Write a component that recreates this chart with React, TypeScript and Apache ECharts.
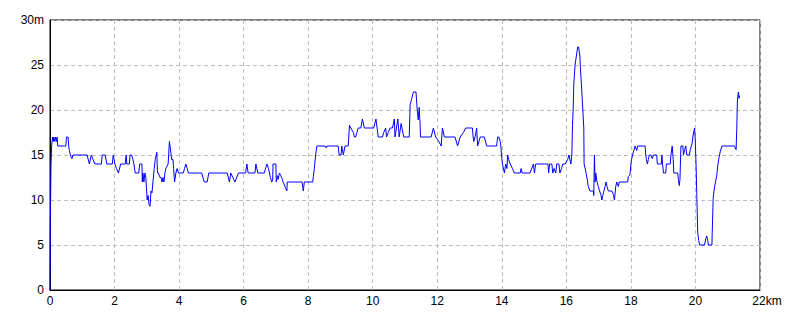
import React, { useEffect, useRef } from "react";
import * as echarts from "echarts";

const distKm: number[] = [
  0, 0.01, 0.03, 0.05, 0.08, 0.1, 0.12, 0.15, 0.17, 0.2, 0.22, 0.24, 0.49, 0.51, 0.56, 0.58, 0.6, 0.63, 0.65, 0.68, 0.71,
  1.15, 1.22, 1.28, 1.3, 1.39, 1.59, 1.62, 1.71, 1.76, 1.93, 1.96, 2.01, 2.06, 2.12, 2.19, 2.33, 2.36, 2.38, 2.46, 2.48,
  2.53, 2.57, 2.6, 2.64, 2.75, 2.78, 2.85, 2.86, 2.88, 2.91, 2.94, 2.97, 3.01, 3.04, 3.07, 3.1, 3.13, 3.16, 3.19, 3.23,
  3.26, 3.31, 3.33, 3.36, 3.41, 3.44, 3.47, 3.5, 3.53, 3.56, 3.59, 3.66, 3.7, 3.72, 3.77, 3.81, 3.83, 3.86, 3.9, 3.94,
  3.98, 4.13, 4.17, 4.21, 4.25, 4.29, 4.7, 4.78, 4.87, 4.92, 5.49, 5.56, 5.6, 5.62, 5.73, 5.84, 6.06, 6.1, 6.14, 6.35,
  6.38, 6.44, 6.64, 6.72, 6.77, 6.8, 6.83, 6.87, 6.9, 6.91, 7.0, 7.01, 7.05, 7.07, 7.11, 7.15, 7.19, 7.22, 7.25, 7.29,
  7.34, 7.35, 7.81, 7.85, 7.88, 8.14, 8.16, 8.19, 8.23, 8.27, 8.52, 8.55, 8.58, 8.93, 8.96, 9.02, 9.04, 9.09, 9.14, 9.24,
  9.28, 9.32, 9.4, 9.43, 9.47, 9.51, 9.55, 9.63, 9.68, 9.74, 10.03, 10.1, 10.17, 10.3, 10.34, 10.4, 10.43, 10.48, 10.54,
  10.61, 10.67, 10.69, 10.78, 10.82, 10.88, 10.96, 11.13, 11.16, 11.21, 11.26, 11.34, 11.38, 11.41, 11.44, 11.47, 11.48,
  11.81, 11.88, 11.95, 12.01, 12.05, 12.12, 12.16, 12.22, 12.55, 12.63, 12.71, 12.81, 12.88, 13.09, 13.11, 13.13, 13.17,
  13.22, 13.25, 13.33, 13.38, 13.46, 13.53, 13.84, 13.87, 13.91, 13.95, 13.97, 13.99, 14.02, 14.08, 14.12, 14.16, 14.18,
  14.21, 14.26, 14.33, 14.39, 14.57, 14.6, 14.63, 14.87, 14.98, 15.01, 15.05, 15.43, 15.45, 15.48, 15.55, 15.58, 15.62,
  15.67, 15.7, 15.77, 15.8, 15.85, 15.89, 15.96, 16.04, 16.08, 16.14, 16.17, 16.19, 16.21, 16.23, 16.27, 16.31, 16.35,
  16.38, 16.42, 16.43, 16.48, 16.51, 16.54, 16.55, 16.58, 16.61, 16.65, 16.68, 16.73, 16.84, 16.85, 16.87, 16.89, 16.91,
  16.95, 16.99, 17.02, 17.07, 17.1, 17.13, 17.15, 17.2, 17.23, 17.26, 17.3, 17.41, 17.46, 17.49, 17.53, 17.56, 17.61,
  17.64, 17.9, 17.92, 17.97, 18.01, 18.05, 18.09, 18.13, 18.18, 18.21, 18.44, 18.46, 18.48, 18.51, 18.54, 18.57, 18.62,
  18.66, 18.7, 18.8, 18.82, 18.94, 18.96, 18.98, 19.01, 19.08, 19.1, 19.22, 19.24, 19.28, 19.31, 19.33, 19.45, 19.47,
  19.5, 19.52, 19.55, 19.61, 19.63, 19.66, 19.7, 19.73, 19.81, 19.84, 19.89, 19.92, 19.95, 19.97, 19.99, 20.02, 20.04,
  20.07, 20.1, 20.13, 20.28, 20.32, 20.35, 20.38, 20.4, 20.51, 20.52, 20.55, 20.58, 20.62, 20.66, 20.69, 20.73, 20.77,
  20.82, 21.21, 21.23, 21.26, 21.28, 21.3, 21.33, 21.35, 21.37,
];

const elevM: number[] = [
  0, 7, 13.7, 16, 17, 16.5, 17, 16.5, 17, 16.5, 17, 16, 16, 17, 17, 16, 15.5, 15, 14.8, 14.6, 15,
  15, 14, 15, 15, 14, 14, 15, 15, 14, 14, 15, 14, 13.5, 13, 14, 14, 15, 14, 14, 15,
  15, 14.5, 14, 13, 13, 14, 14, 12, 13, 12, 13, 12.5, 10, 10.5, 9.5, 9.3, 11, 10.8, 12, 13.5,
  14.5, 15.3, 13, 13, 12.5, 12.5, 12, 12.5, 12, 13, 13.5, 14, 16.5, 16, 14.5, 14.5, 13.5, 12, 13, 13.5,
  13, 13, 13.5, 14, 13.5, 13, 13, 12, 12, 13, 13, 12, 13, 13, 12, 13, 13, 14, 13, 13,
  14, 13, 13, 14, 13.5, 13, 12.5, 12, 12.2, 14, 14, 12, 12.7, 12.3, 13, 12.7, 12.4, 12, 11.8, 11.4,
  11, 12, 12, 11, 12, 12, 12.6, 13.5, 15, 16, 16, 15.8, 16, 16, 15, 15, 16, 15, 16, 16,
  18.3, 18, 17.5, 17, 17, 17.5, 18, 18, 19, 18, 18, 19, 17, 17, 17.5, 18, 17, 17.5, 18,
  18, 19, 17, 19, 17, 18.5, 17, 17, 20.6, 21.3, 22, 22, 20, 18.9, 20.3, 18.3, 17,
  17, 18, 17, 16.7, 16.5, 16, 18, 17, 17, 16, 17, 17.5, 18, 18, 17, 16.5, 17,
  18, 16, 17, 17, 17, 16, 16, 17, 17, 16.5, 16, 15, 14, 13, 14, 13.5, 15,
  14.5, 14, 13.5, 13, 13, 13.5, 13, 13, 14, 13, 14, 14, 13, 14, 14, 13, 13.5,
  13, 14, 14, 13, 13.5, 14, 14, 14.5, 15, 14, 15, 18.3, 20, 22.9, 25, 26, 27,
  27, 26, 25, 22, 20, 18, 14, 13.5, 13, 12.2, 11.5, 11, 11, 10.5, 15, 12, 13,
  12, 11.5, 11.1, 10.6, 10, 10.5, 10.8, 11.5, 12, 11.5, 11, 11, 10.6, 10, 11.5, 12, 11.5,
  12, 12, 12.6, 12.8, 14.3, 15, 15.5, 16, 15.5, 16, 16, 15, 14.5, 14, 14.5, 15, 15,
  14.6, 15, 15, 14, 14, 15, 14, 13, 13, 14, 14, 15, 16, 14.5, 13, 13, 12.3,
  11.6, 12.3, 16, 16, 15, 15.5, 16, 15, 15, 15.6, 16.2, 17, 17.6, 18, 17, 13.8, 10.8,
  6.4, 5.5, 5, 5, 5.7, 6, 5.5, 5, 5, 6.4, 10.3, 11.2, 12, 12.7, 13.8, 14.7, 15.4,
  16, 16, 15.8, 15.6, 17.8, 21.1, 22, 21.3, 21.6,
];

const xMin = 0;
const xMax = 22;
const xStep = 2;
const yMin = 0;
const yMax = 30;
const yStep = 5;

export default function App() {
  const ref = useRef<HTMLDivElement>(null);

  useEffect(() => {
    if (!ref.current) return;
    const chart = echarts.init(ref.current, undefined, { renderer: "svg" });
    const data = distKm.map((d, i) => [d, elevM[i]]);
    const font = "'Liberation Sans', Arial, sans-serif";
    chart.setOption({
      animation: false,
      backgroundColor: "#ffffff",
      grid: {
        left: 50,
        right: 40,
        top: 20,
        bottom: 30,
        show: true,
        borderColor: "#000000",
        borderWidth: 1,
        backgroundColor: "transparent",
      },
      xAxis: {
        type: "value",
        min: xMin,
        max: xMax,
        interval: xStep,
        axisLine: { show: true, lineStyle: { color: "#000000", width: 1 } },
        axisTick: { show: false },
        axisLabel: {
          color: "#000000",
          fontSize: 12,
          fontFamily: font,
          margin: 5,
          formatter: (v: number) => (v === xMax ? `{p|}${v}{u|km}` : `${v}`),
          rich: {
            p: { width: 14, fontSize: 12, fontFamily: font },
            u: { fontSize: 12, fontFamily: font, color: "#000000" },
          },
        },
        splitLine: { show: true, lineStyle: { color: "#bdbdbd", type: [4, 3], width: 1 } },
      },
      yAxis: {
        type: "value",
        min: yMin,
        max: yMax,
        interval: yStep,
        axisLine: { show: true, lineStyle: { color: "#000000", width: 1 } },
        axisTick: { show: false },
        axisLabel: {
          color: "#000000",
          fontSize: 12,
          fontFamily: font,
          margin: 6,
          formatter: (v: number) => (v === yMax ? `${v}m` : `${v}`),
        },
        splitLine: { show: true, lineStyle: { color: "#bdbdbd", type: [4, 3], width: 1 } },
      },
      series: [
        {
          type: "line",
          data,
          symbol: "none",
          lineStyle: { color: "#0000ff", width: 1 },
          silent: true,
        },
      ],
    });
    return () => chart.dispose();
  }, []);

  return (
    <div
      ref={ref}
      style={{ position: "fixed", left: 0, top: 0, width: 800, height: 320 }}
    />
  );
}
